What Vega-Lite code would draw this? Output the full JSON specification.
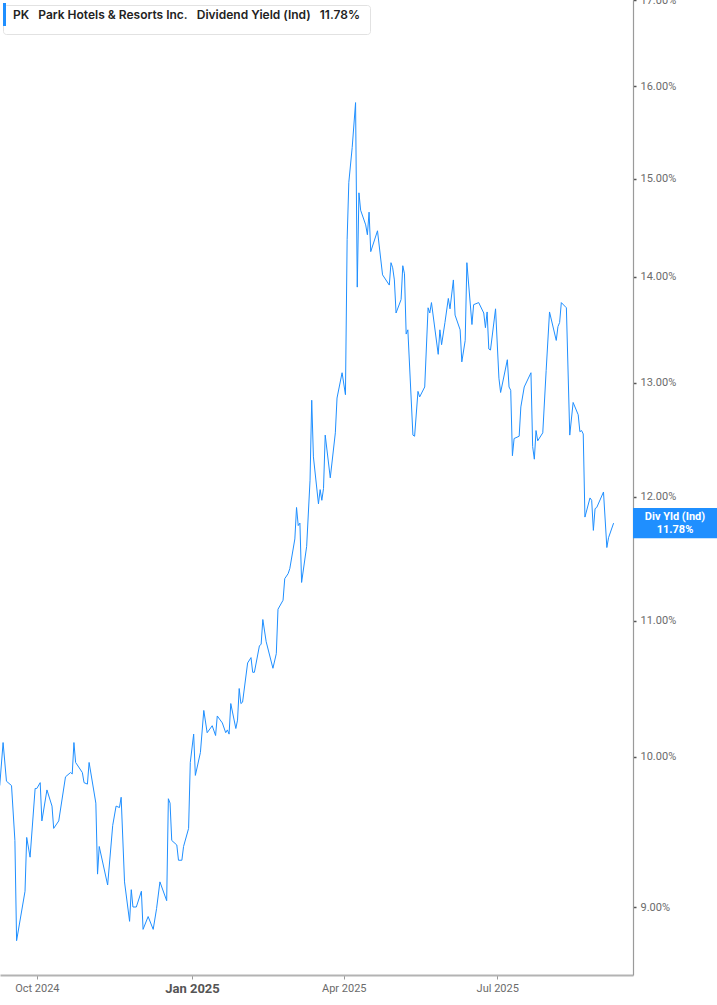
{
  "$schema": "https://vega.github.io/schema/vega-lite/v6.json",
  "width": 633,
  "height": 975,
  "autosize": {"type": "none"},
  "padding": {"left": 0, "top": 0, "right": 84, "bottom": 30},
  "background": "white",
  "config": {"view": {"stroke": null}, "font": "Roboto"},
  "encoding": {
    "y": {
      "field": "yield",
      "type": "quantitative",
      "scale": {"type": "log", "domain": [8.581, 17.0], "nice": false, "zero": false},
      "axis": {
        "orient": "right",
        "title": null,
        "values": [9, 10, 11, 12, 13, 14, 15, 16, 17],
        "labelExpr": "format(datum.value, '.2f') + '%'",
        "grid": false,
        "domainColor": "#9a9a9a",
        "domainWidth": 1.2,
        "tickColor": "#555555",
        "tickSize": 3,
        "tickWidth": 1.5,
        "labelColor": "#6b6b6b",
        "labelFont": "Roboto",
        "labelFontSize": 11,
        "labelPadding": 4,
        "labelBound": false,
        "labelOverlap": false
      }
    }
  },
  "layer": [
    {
      "data": {"values": [
        {"date": "2024-09-09", "yield": 9.80},
        {"date": "2024-09-11", "yield": 10.10},
        {"date": "2024-09-13", "yield": 9.83},
        {"date": "2024-09-16", "yield": 9.80},
        {"date": "2024-09-18", "yield": 9.43},
        {"date": "2024-09-19", "yield": 8.79},
        {"date": "2024-09-24", "yield": 9.10},
        {"date": "2024-09-25", "yield": 9.45},
        {"date": "2024-09-27", "yield": 9.32},
        {"date": "2024-09-30", "yield": 9.78},
        {"date": "2024-10-01", "yield": 9.78},
        {"date": "2024-10-03", "yield": 9.82},
        {"date": "2024-10-04", "yield": 9.56},
        {"date": "2024-10-07", "yield": 9.77},
        {"date": "2024-10-10", "yield": 9.66},
        {"date": "2024-10-11", "yield": 9.51},
        {"date": "2024-10-14", "yield": 9.56},
        {"date": "2024-10-18", "yield": 9.86},
        {"date": "2024-10-21", "yield": 9.89},
        {"date": "2024-10-22", "yield": 9.88},
        {"date": "2024-10-23", "yield": 10.10},
        {"date": "2024-10-24", "yield": 9.96},
        {"date": "2024-10-28", "yield": 9.89},
        {"date": "2024-10-29", "yield": 9.82},
        {"date": "2024-10-31", "yield": 9.81},
        {"date": "2024-11-01", "yield": 9.96},
        {"date": "2024-11-05", "yield": 9.68},
        {"date": "2024-11-06", "yield": 9.21},
        {"date": "2024-11-07", "yield": 9.39},
        {"date": "2024-11-12", "yield": 9.14},
        {"date": "2024-11-15", "yield": 9.53},
        {"date": "2024-11-17", "yield": 9.66},
        {"date": "2024-11-19", "yield": 9.65},
        {"date": "2024-11-20", "yield": 9.72},
        {"date": "2024-11-22", "yield": 9.16},
        {"date": "2024-11-25", "yield": 8.91},
        {"date": "2024-11-26", "yield": 9.11},
        {"date": "2024-11-27", "yield": 9.00},
        {"date": "2024-11-29", "yield": 9.00},
        {"date": "2024-12-02", "yield": 9.10},
        {"date": "2024-12-03", "yield": 8.86},
        {"date": "2024-12-06", "yield": 8.94},
        {"date": "2024-12-09", "yield": 8.86},
        {"date": "2024-12-11", "yield": 8.99},
        {"date": "2024-12-13", "yield": 9.16},
        {"date": "2024-12-17", "yield": 9.04},
        {"date": "2024-12-18", "yield": 9.71},
        {"date": "2024-12-19", "yield": 9.68},
        {"date": "2024-12-20", "yield": 9.43},
        {"date": "2024-12-23", "yield": 9.40},
        {"date": "2024-12-24", "yield": 9.30},
        {"date": "2024-12-26", "yield": 9.30},
        {"date": "2024-12-27", "yield": 9.39},
        {"date": "2024-12-30", "yield": 9.51},
        {"date": "2024-12-31", "yield": 9.96},
        {"date": "2025-01-02", "yield": 10.16},
        {"date": "2025-01-03", "yield": 9.87},
        {"date": "2025-01-06", "yield": 10.03},
        {"date": "2025-01-08", "yield": 10.33},
        {"date": "2025-01-10", "yield": 10.17},
        {"date": "2025-01-13", "yield": 10.22},
        {"date": "2025-01-15", "yield": 10.15},
        {"date": "2025-01-16", "yield": 10.29},
        {"date": "2025-01-19", "yield": 10.24},
        {"date": "2025-01-21", "yield": 10.17},
        {"date": "2025-01-22", "yield": 10.19},
        {"date": "2025-01-23", "yield": 10.16},
        {"date": "2025-01-24", "yield": 10.38},
        {"date": "2025-01-27", "yield": 10.20},
        {"date": "2025-01-28", "yield": 10.26},
        {"date": "2025-01-29", "yield": 10.49},
        {"date": "2025-01-30", "yield": 10.38},
        {"date": "2025-01-31", "yield": 10.39},
        {"date": "2025-02-03", "yield": 10.68},
        {"date": "2025-02-05", "yield": 10.72},
        {"date": "2025-02-06", "yield": 10.61},
        {"date": "2025-02-07", "yield": 10.61},
        {"date": "2025-02-10", "yield": 10.81},
        {"date": "2025-02-11", "yield": 10.82},
        {"date": "2025-02-12", "yield": 11.01},
        {"date": "2025-02-14", "yield": 10.84},
        {"date": "2025-02-18", "yield": 10.64},
        {"date": "2025-02-20", "yield": 10.75},
        {"date": "2025-02-21", "yield": 11.09},
        {"date": "2025-02-24", "yield": 11.16},
        {"date": "2025-02-25", "yield": 11.33},
        {"date": "2025-02-27", "yield": 11.37},
        {"date": "2025-02-28", "yield": 11.41},
        {"date": "2025-03-03", "yield": 11.65},
        {"date": "2025-03-04", "yield": 11.91},
        {"date": "2025-03-05", "yield": 11.76},
        {"date": "2025-03-06", "yield": 11.78},
        {"date": "2025-03-07", "yield": 11.30},
        {"date": "2025-03-10", "yield": 11.59},
        {"date": "2025-03-12", "yield": 12.14},
        {"date": "2025-03-13", "yield": 12.84},
        {"date": "2025-03-14", "yield": 12.34},
        {"date": "2025-03-17", "yield": 11.94},
        {"date": "2025-03-18", "yield": 12.06},
        {"date": "2025-03-19", "yield": 11.97},
        {"date": "2025-03-20", "yield": 12.07},
        {"date": "2025-03-21", "yield": 12.53},
        {"date": "2025-03-24", "yield": 12.16},
        {"date": "2025-03-27", "yield": 12.55},
        {"date": "2025-03-28", "yield": 12.86},
        {"date": "2025-03-31", "yield": 13.09},
        {"date": "2025-04-02", "yield": 12.89},
        {"date": "2025-04-03", "yield": 14.37},
        {"date": "2025-04-04", "yield": 14.96},
        {"date": "2025-04-06", "yield": 15.33},
        {"date": "2025-04-08", "yield": 15.82},
        {"date": "2025-04-09", "yield": 13.90},
        {"date": "2025-04-10", "yield": 14.85},
        {"date": "2025-04-11", "yield": 14.67},
        {"date": "2025-04-14", "yield": 14.52},
        {"date": "2025-04-15", "yield": 14.42},
        {"date": "2025-04-16", "yield": 14.65},
        {"date": "2025-04-17", "yield": 14.25},
        {"date": "2025-04-21", "yield": 14.46},
        {"date": "2025-04-24", "yield": 14.02},
        {"date": "2025-04-28", "yield": 13.92},
        {"date": "2025-04-29", "yield": 14.14},
        {"date": "2025-04-30", "yield": 14.09},
        {"date": "2025-05-01", "yield": 13.97},
        {"date": "2025-05-02", "yield": 13.65},
        {"date": "2025-05-05", "yield": 13.78},
        {"date": "2025-05-06", "yield": 14.11},
        {"date": "2025-05-07", "yield": 14.03},
        {"date": "2025-05-08", "yield": 13.45},
        {"date": "2025-05-09", "yield": 13.49},
        {"date": "2025-05-12", "yield": 12.53},
        {"date": "2025-05-13", "yield": 12.52},
        {"date": "2025-05-15", "yield": 12.92},
        {"date": "2025-05-16", "yield": 12.87},
        {"date": "2025-05-19", "yield": 12.96},
        {"date": "2025-05-21", "yield": 13.70},
        {"date": "2025-05-22", "yield": 13.65},
        {"date": "2025-05-23", "yield": 13.75},
        {"date": "2025-05-27", "yield": 13.26},
        {"date": "2025-05-28", "yield": 13.49},
        {"date": "2025-05-29", "yield": 13.35},
        {"date": "2025-05-31", "yield": 13.56},
        {"date": "2025-06-02", "yield": 13.79},
        {"date": "2025-06-03", "yield": 13.69},
        {"date": "2025-06-05", "yield": 13.97},
        {"date": "2025-06-06", "yield": 13.63},
        {"date": "2025-06-09", "yield": 13.49},
        {"date": "2025-06-10", "yield": 13.19},
        {"date": "2025-06-12", "yield": 13.39},
        {"date": "2025-06-13", "yield": 14.14},
        {"date": "2025-06-16", "yield": 13.54},
        {"date": "2025-06-17", "yield": 13.73},
        {"date": "2025-06-20", "yield": 13.75},
        {"date": "2025-06-23", "yield": 13.65},
        {"date": "2025-06-24", "yield": 13.51},
        {"date": "2025-06-25", "yield": 13.66},
        {"date": "2025-06-26", "yield": 13.31},
        {"date": "2025-06-27", "yield": 13.30},
        {"date": "2025-06-30", "yield": 13.69},
        {"date": "2025-07-02", "yield": 13.04},
        {"date": "2025-07-03", "yield": 12.91},
        {"date": "2025-07-07", "yield": 13.21},
        {"date": "2025-07-08", "yield": 12.96},
        {"date": "2025-07-09", "yield": 12.93},
        {"date": "2025-07-10", "yield": 12.35},
        {"date": "2025-07-11", "yield": 12.50},
        {"date": "2025-07-14", "yield": 12.52},
        {"date": "2025-07-15", "yield": 12.78},
        {"date": "2025-07-17", "yield": 12.96},
        {"date": "2025-07-21", "yield": 13.09},
        {"date": "2025-07-22", "yield": 12.43},
        {"date": "2025-07-23", "yield": 12.32},
        {"date": "2025-07-24", "yield": 12.57},
        {"date": "2025-07-25", "yield": 12.48},
        {"date": "2025-07-28", "yield": 12.55},
        {"date": "2025-07-30", "yield": 13.11},
        {"date": "2025-08-01", "yield": 13.66},
        {"date": "2025-08-05", "yield": 13.39},
        {"date": "2025-08-06", "yield": 13.52},
        {"date": "2025-08-07", "yield": 13.56},
        {"date": "2025-08-08", "yield": 13.75},
        {"date": "2025-08-11", "yield": 13.70},
        {"date": "2025-08-13", "yield": 12.53},
        {"date": "2025-08-15", "yield": 12.82},
        {"date": "2025-08-18", "yield": 12.71},
        {"date": "2025-08-19", "yield": 12.56},
        {"date": "2025-08-20", "yield": 12.57},
        {"date": "2025-08-21", "yield": 12.54},
        {"date": "2025-08-22", "yield": 11.83},
        {"date": "2025-08-25", "yield": 11.99},
        {"date": "2025-08-26", "yield": 11.97},
        {"date": "2025-08-27", "yield": 11.72},
        {"date": "2025-08-28", "yield": 11.90},
        {"date": "2025-08-29", "yield": 11.91},
        {"date": "2025-09-02", "yield": 12.04},
        {"date": "2025-09-04", "yield": 11.58},
        {"date": "2025-09-05", "yield": 11.66},
        {"date": "2025-09-08", "yield": 11.78}
      ]},
      "mark": {"type": "line", "strokeWidth": 1, "interpolate": "linear"},
      "encoding": {
        "x": {
          "field": "date",
          "type": "temporal",
          "scale": {
            "type": "utc",
            "domain": [
              {"year": 2024, "month": 9, "date": 9, "hours": 4, "utc": true},
              {"year": 2025, "month": 9, "date": 19, "hours": 12, "utc": true}
            ],
            "nice": false
          },
          "axis": {
            "title": null,
            "values": [
              {"year": 2024, "month": 10, "date": 1, "utc": true},
              {"year": 2025, "month": 1, "date": 1, "utc": true},
              {"year": 2025, "month": 4, "date": 1, "utc": true},
              {"year": 2025, "month": 7, "date": 1, "utc": true}
            ],
            "labelExpr": "utcFormat(datum.value, '%b %Y')",
            "grid": false,
            "domainColor": "#b3b3b3",
            "domainWidth": 2,
            "tickColor": "#9a9a9a",
            "tickSize": 4,
            "labelColor": {"condition": {"test": "utcmonth(datum.value) === 0", "value": "#555555"}, "value": "#6b6b6b"},
            "labelFont": "Roboto",
            "labelFontSize": {"condition": {"test": "utcmonth(datum.value) === 0", "value": 13}, "value": 11},
            "labelFontWeight": {"condition": {"test": "utcmonth(datum.value) === 0", "value": "bold"}, "value": "normal"},
            "labelPadding": 3
          }
        },
        "color": {
          "datum": "PK\u00a0\u00a0\u00a0Park Hotels & Resorts Inc.\u00a0\u00a0\u00a0Dividend Yield (Ind)\u00a0\u00a0\u00a011.78%\u2800",
          "type": "nominal",
          "scale": {"range": ["#1f8fff"]},
          "legend": {
            "orient": "none",
            "legendX": 3,
            "legendY": 5,
            "title": null,
            "fillColor": "white",
            "strokeColor": "#e2e2e2",
            "cornerRadius": 3,
            "padding": 1,
            "symbolType": "M-1.143,-1.643L-1.143,1.643",
            "symbolSize": 196,
            "symbolStrokeWidth": 3,
            "labelFont": "Inter",
            "labelFontSize": 12,
            "labelFontWeight": 600,
            "labelColor": "#222222",
            "labelOffset": -8,
            "labelLimit": 600
          }
        }
      }
    },
    {
      "data": {"values": [{"yield": 11.78, "label": "Div Yld (Ind)\n11.78%"}]},
      "mark": {
        "type": "point",
        "shape": "M0,-0.353L2,-0.353L2,0.353L0,0.353Z",
        "size": 7225,
        "filled": true,
        "opacity": 1,
        "color": "#1f8fff",
        "strokeWidth": 0
      },
      "encoding": {
        "x": {"datum": {"year": 2025, "month": 9, "date": 19, "hours": 12, "utc": true}, "type": "temporal", "scale": {"type": "utc"}}
      }
    },
    {
      "data": {"values": [{"yield": 11.78, "label": "Div Yld (Ind)\n11.78%"}]},
      "mark": {
        "type": "text",
        "dx": 42,
        "dy": -6,
        "align": "center",
        "baseline": "middle",
        "lineBreak": "\n",
        "lineHeight": 13,
        "font": "Roboto",
        "fontSize": 11,
        "fontWeight": "bold",
        "color": "white"
      },
      "encoding": {
        "x": {"datum": {"year": 2025, "month": 9, "date": 19, "hours": 12, "utc": true}, "type": "temporal", "scale": {"type": "utc"}},
        "text": {"field": "label"}
      }
    }
  ]
}
